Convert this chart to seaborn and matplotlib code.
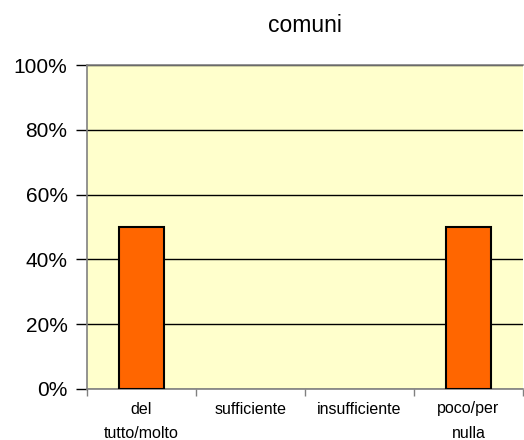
import numpy as np
import pandas as pd
import matplotlib
matplotlib.use('Agg')
import matplotlib.pyplot as plt
import seaborn as sns
from matplotlib.ticker import FixedLocator, PercentFormatter

# Data
categories = ['del\ntutto/molto', 'sufficiente', 'insufficiente', 'poco/per\nnulla']
values = [50, 0, 0, 50]
y_ticks = [0, 20, 40, 60, 80, 100]

sns.set_style('white')
plt.rcParams['font.family'] = ['Liberation Sans', 'DejaVu Sans']
plt.rcParams['text.color'] = 'black'
plt.rcParams['xtick.color'] = 'black'
plt.rcParams['ytick.color'] = 'black'

df = pd.DataFrame({'category': categories, 'value': values})

fig = plt.figure(figsize=(5.24, 4.4), dpi=100)
ax = fig.add_axes([87 / 524, 1 - 389 / 440, 436 / 524, 324 / 440])
ax.set_facecolor('#FFFFCC')

sns.barplot(data=df, x='category', y='value', color='#FF6600', width=0.42,
            edgecolor='black', linewidth=1.5, saturation=1, ax=ax, zorder=3)

# empty categories show no outline in the original
for bar in ax.patches:
    if bar.get_height() == 0:
        bar.set_visible(False)

ax.set_ylim(0, 100)
ax.set_xlim(-0.5, len(categories) - 0.5)
ax.set_yticks(y_ticks)
ax.yaxis.set_major_formatter(PercentFormatter(decimals=0))
ax.yaxis.grid(True, color='black', linewidth=1, zorder=1)
ax.set_axisbelow(True)

# Excel-style ticks between categories
ax.xaxis.set_minor_locator(FixedLocator(np.arange(-0.5, len(categories), 1.0)))
ax.tick_params(axis='x', which='major', length=0, labelsize=11.5, pad=9)
ax.tick_params(axis='x', which='minor', length=5, width=1, color='#808080', direction='out', bottom=True)
ax.tick_params(axis='y', length=8, width=1, color='black', direction='out', labelsize=15, pad=6, left=True)

for side in ['left', 'bottom', 'top', 'right']:
    ax.spines[side].set_color('#808080')
    ax.spines[side].set_linewidth(1.2)
ax.spines['right'].set_visible(False)

ax.set_xlabel('')
ax.set_ylabel('')
ax.set_title('comuni', fontsize=16.5, pad=24, color='black')

for lbl in ax.get_xticklabels():
    lbl.set_linespacing(1.75)

fig.savefig('out.png', dpi=100)
